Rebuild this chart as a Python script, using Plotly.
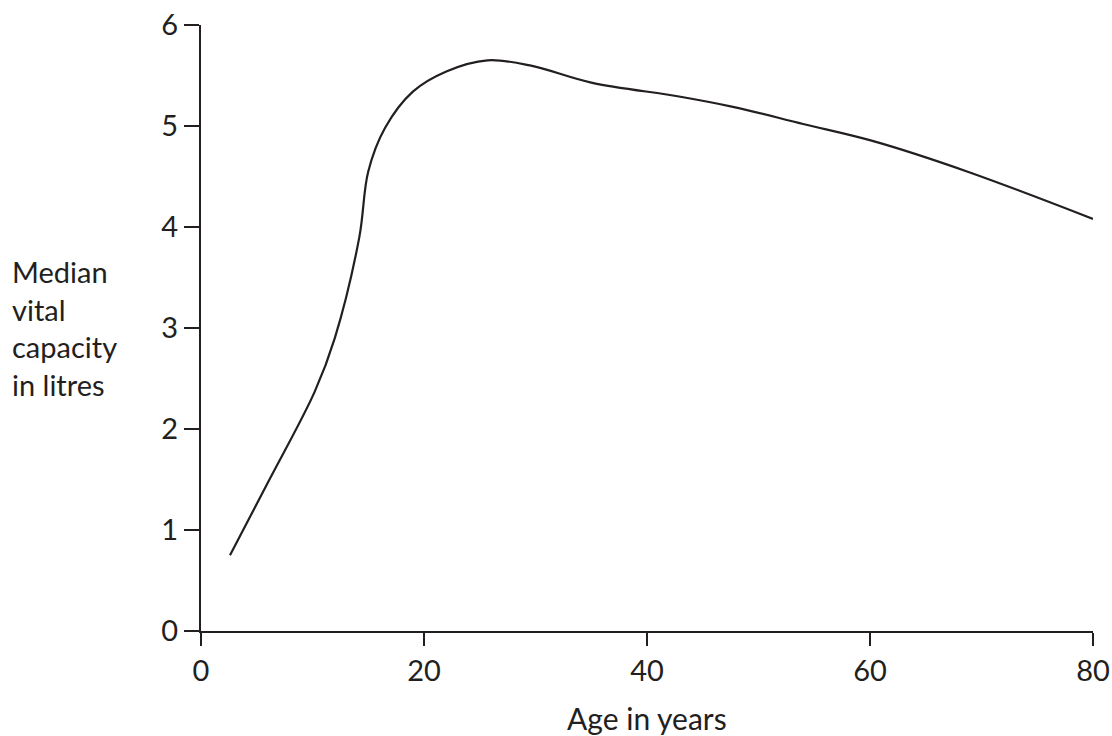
import plotly.graph_objects as go

# Median vital capacity against age
ages = [2.6, 6, 10.2, 12, 14.2, 15, 16.5, 19, 22, 25.7, 29.5, 35, 43, 47.7, 54, 60.3, 68.7, 80]
capacity = [0.75, 1.47, 2.37, 2.9, 3.9, 4.55, 4.98, 5.34, 5.54, 5.65, 5.6, 5.43, 5.29, 5.19, 5.02, 4.85, 4.55, 4.08]

x_ticks = [0, 20, 40, 60, 80]
y_ticks = [0, 1, 2, 3, 4, 5, 6]

ink = '#231f20'
font = dict(family='Lato, Roboto, sans-serif', size=29, color=ink)

fig = go.Figure()
fig.add_trace(go.Scatter(x=ages, y=capacity, mode='lines',
                         line=dict(color=ink, width=2.2, shape='spline', smoothing=1.0),
                         hoverinfo='skip', showlegend=False))

fig.update_layout(
    width=1112, height=736,
    margin=dict(l=201, r=19, t=25, b=105),
    paper_bgcolor='white', plot_bgcolor='white',
    font=font,
    showlegend=False,
)

fig.update_xaxes(range=[0, 80], tickvals=x_ticks, ticks='outside', ticklen=13, tickwidth=2,
                 tickcolor=ink, showline=True, linecolor=ink, linewidth=2, automargin=False,
                 showgrid=False, zeroline=False, tickfont=font)
fig.update_yaxes(range=[0, 6], tickvals=y_ticks, ticks='outside', ticklen=15, tickwidth=2,
                 tickcolor=ink, showline=True, linecolor=ink, linewidth=2, automargin=False,
                 showgrid=False, zeroline=False, tickfont=font)

# axis titles placed like the original figure
fig.add_annotation(text='Age in years', xref='paper', yref='paper', x=0.5, y=-0.144,
                   xanchor='center', yanchor='middle', showarrow=False,
                   font=dict(family=font['family'], size=30, color=ink))
fig.add_annotation(text='Median<br>vital<br>capacity<br>in litres', xref='paper', yref='paper',
                   x=-0.2141, y=0.5, xanchor='left', yanchor='middle', align='left',
                   showarrow=False, font=font)

# no page margin or scrollbars, so the figure fills the window exactly
page_fix = ("document.documentElement.style.margin = '0';"
            "document.documentElement.style.overflow = 'hidden';"
            "document.body.style.margin = '0';"
            "document.body.style.overflow = 'hidden';")
fig.write_html("out.html", post_script=page_fix, config={'displayModeBar': False})
